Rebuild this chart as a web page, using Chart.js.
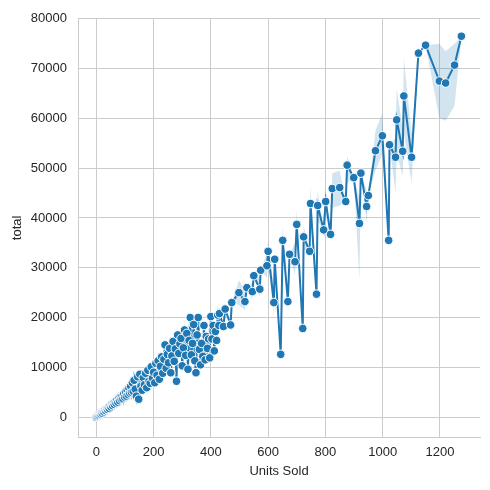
<!DOCTYPE html>
<html>
<head>
<meta charset="utf-8">
<script src="https://cdn.jsdelivr.net/npm/chart.js@4/dist/chart.umd.min.js"></script>
<style>
  html, body { margin: 0; padding: 0; background: #fff; }
  #wrap { width: 490px; height: 490px; }
</style>
</head>
<body>
<div id="wrap"><canvas id="unitsChart" width="490" height="490"></canvas></div>
<script>
// Units Sold (x) e total (y)
const unitsSold = [
  0, 3, 6, 9, 12, 15, 18, 21, 24, 27, 30, 33, 36, 39, 42, 45, 48, 51, 54, 57,
  60, 63, 66, 69, 72, 75, 78, 81, 84, 87, 90, 93, 96, 99, 102, 105, 108, 111, 114, 117,
  120, 123, 126, 129, 132, 136, 140, 144, 148, 152, 156, 160, 164, 168, 172, 176, 180, 184, 188, 192,
  196, 200, 204, 208, 212, 216, 220, 224, 228, 232, 236, 240, 244, 248, 252, 256, 260, 264, 268, 272,
  276, 280, 284, 288, 292, 296, 300, 304, 308, 312, 316, 320, 324, 328, 332, 336, 340, 344, 348, 352,
  356, 360, 364, 368, 372, 376, 380, 384, 388, 392, 396, 400, 404, 408, 412, 416, 420, 424, 428,
  430, 444, 450, 469, 473, 498, 519, 526, 545, 550, 571, 574, 596, 600, 620, 623, 644, 651, 669, 675,
  694, 700, 721, 724, 745, 748, 769, 773, 794, 801, 818, 824, 850, 871, 876, 899, 919, 924, 944, 950,
  975, 999, 1021, 1024, 1045, 1049, 1070, 1074, 1101, 1125, 1150, 1198, 1220, 1251, 1275
];
const totals = [
  0, 120, 260, 350, 560, 600, 820, 780, 1100, 1050, 1380, 1300, 1620, 1550, 1900, 1750, 2200, 2050, 2500, 2300,
  2800, 2550, 3100, 2800, 3400, 3000, 3700, 3300, 4100, 3600, 4300, 3700, 4700, 4000, 5100, 4200, 5400, 4500, 5800, 4800,
  6200, 5000, 6900, 5200, 7400, 5600, 4200, 8100, 3600, 8600, 6200, 5400, 7900, 6500, 8800, 5900, 9400, 7200, 6800, 10100,
  7800, 9000, 6900, 10800, 8400, 11300, 7600, 10200, 12100, 8800, 11600, 14500, 9800, 12600, 10900, 13800, 8900, 12300, 15200, 11200,
  13700, 7200, 16500, 12800, 14700, 15800, 10300, 13900, 17500, 12400, 16800, 9600, 15400, 20000, 12500, 14800, 18600, 11300, 8900, 16500,
  20000, 13600, 10500, 14800, 12200, 18400, 11500, 16200, 13800, 15700, 11900, 20200, 15700, 18400, 13300, 17200, 15400, 20500, 18400,
  20800, 18200, 21700, 18500, 23000, 25000, 23200, 26000, 25200, 28400, 25700, 29500, 30400, 33300, 23000, 31700, 12600, 35500, 23200, 32700,
  31200, 38700, 17800, 36200, 33300, 42900, 24700, 42500, 37600, 43300, 36700, 45900, 46100, 43300, 50600, 48100, 38900, 49000, 42300, 44500,
  53500, 56500, 35500, 54700, 52200, 59700, 53400, 64500, 52200, 73100, 74700, 67500, 67100, 70700, 76500
];

// Intervalo de confiança (só onde aparece a faixa)
const bandUnits = [132, 148, 180, 208, 240, 256, 268, 284, 296, 308, 316, 328, 340, 356, 368, 376, 392, 400, 412, 424,
  498, 519, 545, 571, 596, 600, 620, 651, 694, 700, 724, 748, 773, 801, 824, 850, 876, 919, 944, 975,
  999, 1045, 1049, 1070, 1074, 1101, 1198, 1220, 1251];
const bandLow = [5200, 3000, 7000, 8000, 10500, 10500, 12000, 11500, 12000, 14000, 13000, 16000, 14500, 15500, 11500, 14000, 12500, 16500, 11000, 17000,
  22500, 21500, 23500, 24000, 28000, 31000, 20500, 33000, 28500, 36500, 33500, 40000, 39500, 40500, 42000, 42500, 47000, 27500, 39000, 49500,
  53000, 45000, 53000, 48500, 57000, 47000, 60000, 59500, 62500];
const bandHigh = [9000, 6500, 10500, 12000, 15500, 15000, 17000, 18500, 18000, 19500, 19000, 21500, 21000, 21500, 17500, 21000, 19000, 22500, 17000, 23000,
  27500, 25500, 27000, 28000, 33000, 35500, 26000, 38500, 35000, 41500, 38500, 46500, 45500, 46000, 49000, 49500, 52500, 44000, 45500, 57500,
  61000, 56000, 66000, 58000, 72000, 57000, 75000, 73500, 75000];

const xTicks = [0, 200, 400, 600, 800, 1000, 1200];
const yTicks = [0, 10000, 20000, 30000, 40000, 50000, 60000, 70000, 80000];

const lineColor = '#1f77b4';
const gridColor = '#cccccc';
const textColor = '#262626';
const fontFamily = '"Liberation Sans", Arial, sans-serif';

// Monta os pontos da linha e da faixa
const linePoints = unitsSold.map((u, i) => ({ x: u, y: totals[i] }));
const lowPoints = unitsSold.map((u, i) => {
  const k = bandUnits.indexOf(u);
  return { x: u, y: k >= 0 ? bandLow[k] : totals[i] };
});
const highPoints = unitsSold.map((u, i) => {
  const k = bandUnits.indexOf(u);
  return { x: u, y: k >= 0 ? bandHigh[k] : totals[i] };
});

function createChart() {
  const ctx = document.getElementById('unitsChart').getContext('2d');

  window.unitsChart = new Chart(ctx, {
    type: 'line',
    data: {
      datasets: [
        {
          label: 'ci high',
          data: highPoints,
          borderWidth: 0,
          pointRadius: 0,
          backgroundColor: 'rgba(31,119,180,0.2)',
          fill: '+1',
          order: 3
        },
        {
          label: 'ci low',
          data: lowPoints,
          borderWidth: 0,
          pointRadius: 0,
          fill: false,
          order: 2
        },
        {
          label: 'total',
          data: linePoints,
          borderColor: lineColor,
          borderWidth: 2,
          pointRadius: 4.3,
          pointBackgroundColor: lineColor,
          pointBorderColor: '#ffffff',
          pointBorderWidth: 1,
          fill: false,
          order: 1
        }
      ]
    },
    options: {
      responsive: false,
      animation: false,
      devicePixelRatio: 1,
      layout: { autoPadding: false, padding: { top: 15, right: 10, left: 0, bottom: 0 } },
      plugins: {
        legend: { display: false },
        tooltip: { enabled: false }
      },
      scales: {
        x: {
          type: 'linear',
          min: -64,
          max: 1340,
          afterBuildTicks: s => { s.ticks = xTicks.map(v => ({ value: v })); },
          afterFit: s => { s.height = 53; },
          grid: { color: gridColor, lineWidth: 1, drawTicks: false },
          border: { display: true, color: gridColor, width: 1 },
          ticks: {
            color: textColor, padding: 8,
            font: { family: fontFamily, size: 13 },
            callback: v => String(v)
          },
          title: {
            display: true,
            text: 'Units Sold',
            color: textColor,
            font: { family: fontFamily, size: 13 },
            padding: { top: 0, bottom: 11 }
          }
        },
        y: {
          type: 'linear',
          min: -4000,
          max: 80000,
          afterBuildTicks: s => { s.ticks = yTicks.map(v => ({ value: v })); },
          afterFit: s => { s.width = 78; },
          grid: { color: gridColor, lineWidth: 1, drawTicks: false },
          border: { display: true, color: gridColor, width: 1 },
          ticks: {
            color: textColor, padding: 11,
            font: { family: fontFamily, size: 13 },
            callback: v => String(v)
          },
          title: {
            display: true,
            text: 'total',
            color: textColor,
            font: { family: fontFamily, size: 13 },
            padding: { top: 10, bottom: 0 }
          }
        }
      }
    }
  });
}

window.onload = createChart;
</script>
</body>
</html>
